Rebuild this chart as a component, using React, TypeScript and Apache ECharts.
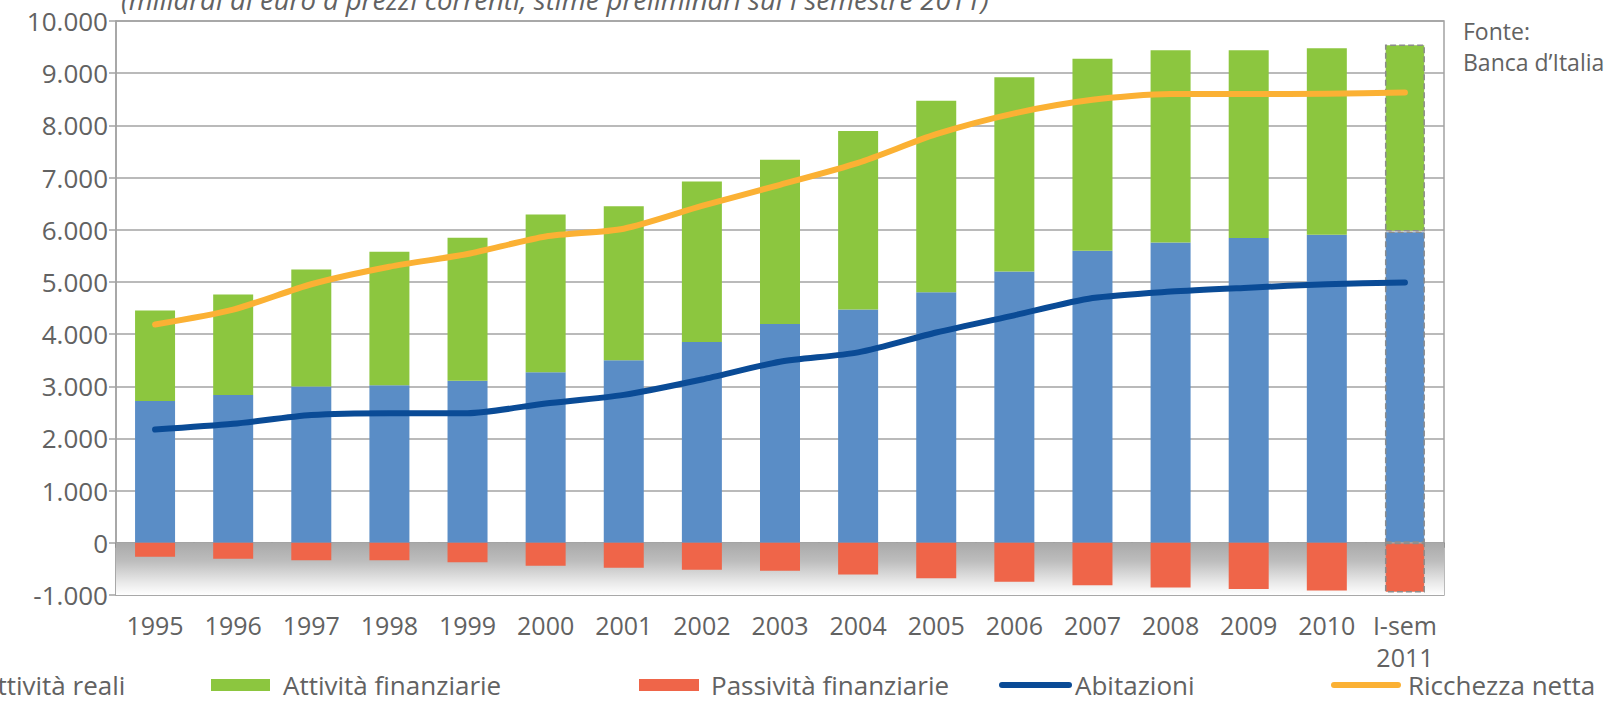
import React, { useEffect, useRef } from "react";
import * as echarts from "echarts";

const categories = ["1995", "1996", "1997", "1998", "1999", "2000", "2001", "2002", "2003", "2004", "2005", "2006", "2007", "2008", "2009", "2010", "I-sem\n2011"];
const attivitaReali = [2720, 2835, 2995, 3020, 3105, 3270, 3500, 3850, 4195, 4470, 4800, 5200, 5598, 5757, 5840, 5904, 5968];
const attivitaFinanziarie = [1730, 1925, 2245, 2560, 2740, 3022, 2950, 3072, 3145, 3420, 3670, 3720, 3677, 3683, 3600, 3574, 3582];
const passivitaFinanziarie = [-268, -303, -335, -335, -370, -440, -478, -518, -537, -605, -680, -745, -815, -855, -885, -915, -953];
const abitazioni = [2170, 2280, 2450, 2485, 2485, 2670, 2835, 3130, 3470, 3650, 4030, 4360, 4690, 4815, 4890, 4955, 4990];
const ricchezzaNetta = [4185, 4470, 4955, 5290, 5535, 5870, 6020, 6455, 6860, 7280, 7830, 8230, 8490, 8600, 8600, 8605, 8630];

const seriesNames = ["Attività reali", "Attività finanziarie", "Passività finanziarie", "Abitazioni", "Ricchezza netta"];
const title = "(miliardi di euro a prezzi correnti, stime preliminari sul I semestre 2011)";
const sourceLines = ["Fonte:", "Banca d’Italia"];

const C_BLUE = "#5a8dc6";
const C_GREEN = "#8cc63f";
const C_RED = "#ef6549";
const C_DARK = "#0a4b96";
const C_ORANGE = "#fbb134";
const TXT = "#626262";
const FONT = "Open Sans";

function fmt(v: number): string {
  const s = Math.abs(v).toString().replace(/\B(?=(\d{3})+(?!\d))/g, ".");
  return (v < 0 ? "-" : "") + s;
}

function barData(arr: number[]) {
  const last = arr.length - 1;
  return arr.map((v, i) =>
    i === last
      ? { value: v, itemStyle: { borderType: "dashed", borderColor: "#8c8c8c", borderWidth: 1.5 } }
      : v
  );
}

export default function App() {
  const ref = useRef<HTMLDivElement>(null);
  useEffect(() => {
    document.body.style.margin = "0";
    const chart = echarts.init(ref.current!, undefined, { renderer: "svg" });
    const legendY = 685;
    const legendItems = [
      { kind: "rect", color: C_BLUE, x1: -92, x2: -32, tx: -19 },
      { kind: "rect", color: C_GREEN, x1: 211, x2: 270, tx: 283 },
      { kind: "rect", color: C_RED, x1: 639, x2: 699, tx: 711 },
      { kind: "line", color: C_DARK, x1: 1002, x2: 1069, tx: 1075 },
      { kind: "line", color: C_ORANGE, x1: 1334, x2: 1398, tx: 1408 },
    ];
    const graphics: any[] = [];
    legendItems.forEach((it, i) => {
      if (it.kind === "rect") {
        graphics.push({ type: "rect", shape: { x: it.x1, y: legendY - 6, width: it.x2 - it.x1, height: 12 }, style: { fill: it.color } });
      } else {
        graphics.push({ type: "line", shape: { x1: it.x1, y1: legendY, x2: it.x2, y2: legendY }, style: { stroke: it.color, lineWidth: 6, lineCap: "round" } });
      }
      graphics.push({ type: "text", x: it.tx, y: legendY, style: { text: seriesNames[i], fill: TXT, font: `26px '${FONT}'`, lineHeight: 26, verticalAlign: "middle", align: "left" } });
    });
    graphics.push({ type: "text", x: 121, y: 13, style: { text: title, fill: TXT, font: `italic 27.5px '${FONT}'`, verticalAlign: "bottom", align: "left" } });
    sourceLines.forEach((t, i) => {
      graphics.push({ type: "text", x: 1463, y: 31 + i * 31, style: { text: t, fill: TXT, font: `23px '${FONT}'`, verticalAlign: "middle", align: "left" } });
    });

    chart.setOption({
      animation: false,
      backgroundColor: "#ffffff",
      textStyle: { fontFamily: FONT },
      grid: { left: 116, right: 168, top: 21, bottom: 107, containLabel: false, show: true, borderColor: "#a3a3a3", borderWidth: 1.5, backgroundColor: "transparent" },
      xAxis: [
        {
          type: "category",
          data: categories,
          position: "bottom",
          axisLine: { onZero: false, show: false },
          axisTick: { show: false },
          axisLabel: { color: TXT, fontSize: 25, margin: 14, lineHeight: 32, fontFamily: FONT, interval: 0 },
          splitLine: { show: false },
        },
        {
          type: "category",
          data: categories,
          position: "bottom",
          axisLine: { onZero: true, show: true, lineStyle: { color: "#9a9a9a", width: 1.5 } },
          axisTick: { show: true, length: 5, lineStyle: { color: "#8a8a8a", width: 1.5 } },
          axisLabel: { show: false },
          splitLine: { show: false },
        },
      ],
      yAxis: {
        type: "value",
        min: -1000,
        max: 10000,
        interval: 1000,
        axisLine: { show: true, lineStyle: { color: "#a3a3a3", width: 1.5 } },
        axisTick: { show: true, length: 7, lineStyle: { color: "#a3a3a3", width: 1.5 } },
        axisLabel: { color: TXT, fontSize: 26, margin: 8, fontFamily: FONT, formatter: (v: number) => fmt(v) },
        splitLine: { show: true, lineStyle: { color: "#a3a3a3", width: 1.5 } },
      },
      series: [
        {
          name: seriesNames[0],
          type: "bar",
          stack: "tot",
          barWidth: 40,
          itemStyle: { color: C_BLUE },
          data: barData(attivitaReali),
          z: 3,
          markArea: {
            silent: true,
            z: 1,
            itemStyle: {
              color: new echarts.graphic.LinearGradient(0, 0, 0, 1, [
                { offset: 0, color: "#a9a9a9" },
                { offset: 0.35, color: "#bdbdbd" },
                { offset: 0.75, color: "#e8e8e8" },
                { offset: 1, color: "#ffffff" },
              ]),
            },
            data: [[{ yAxis: 0 }, { yAxis: -1000 }]],
          },
        },
        { name: seriesNames[1], type: "bar", stack: "tot", barWidth: 40, itemStyle: { color: C_GREEN }, data: barData(attivitaFinanziarie), z: 3 },
        { name: seriesNames[2], type: "bar", stack: "tot", barWidth: 40, itemStyle: { color: C_RED }, data: barData(passivitaFinanziarie), z: 3 },
        {
          name: seriesNames[3],
          type: "line",
          data: abitazioni,
          smooth: 0.25,
          symbol: "none",
          lineStyle: { color: C_DARK, width: 6, cap: "round", join: "round" },
          itemStyle: { color: C_DARK },
          z: 5,
        },
        {
          name: seriesNames[4],
          type: "line",
          data: ricchezzaNetta,
          smooth: 0.25,
          symbol: "none",
          lineStyle: { color: C_ORANGE, width: 6, cap: "round", join: "round" },
          itemStyle: { color: C_ORANGE },
          z: 5,
        },
      ],
      graphic: graphics,
    });
    return () => chart.dispose();
  }, []);
  return <div ref={ref} style={{ position: "fixed", left: 0, top: 0, width: 1612, height: 702 }} />;
}
